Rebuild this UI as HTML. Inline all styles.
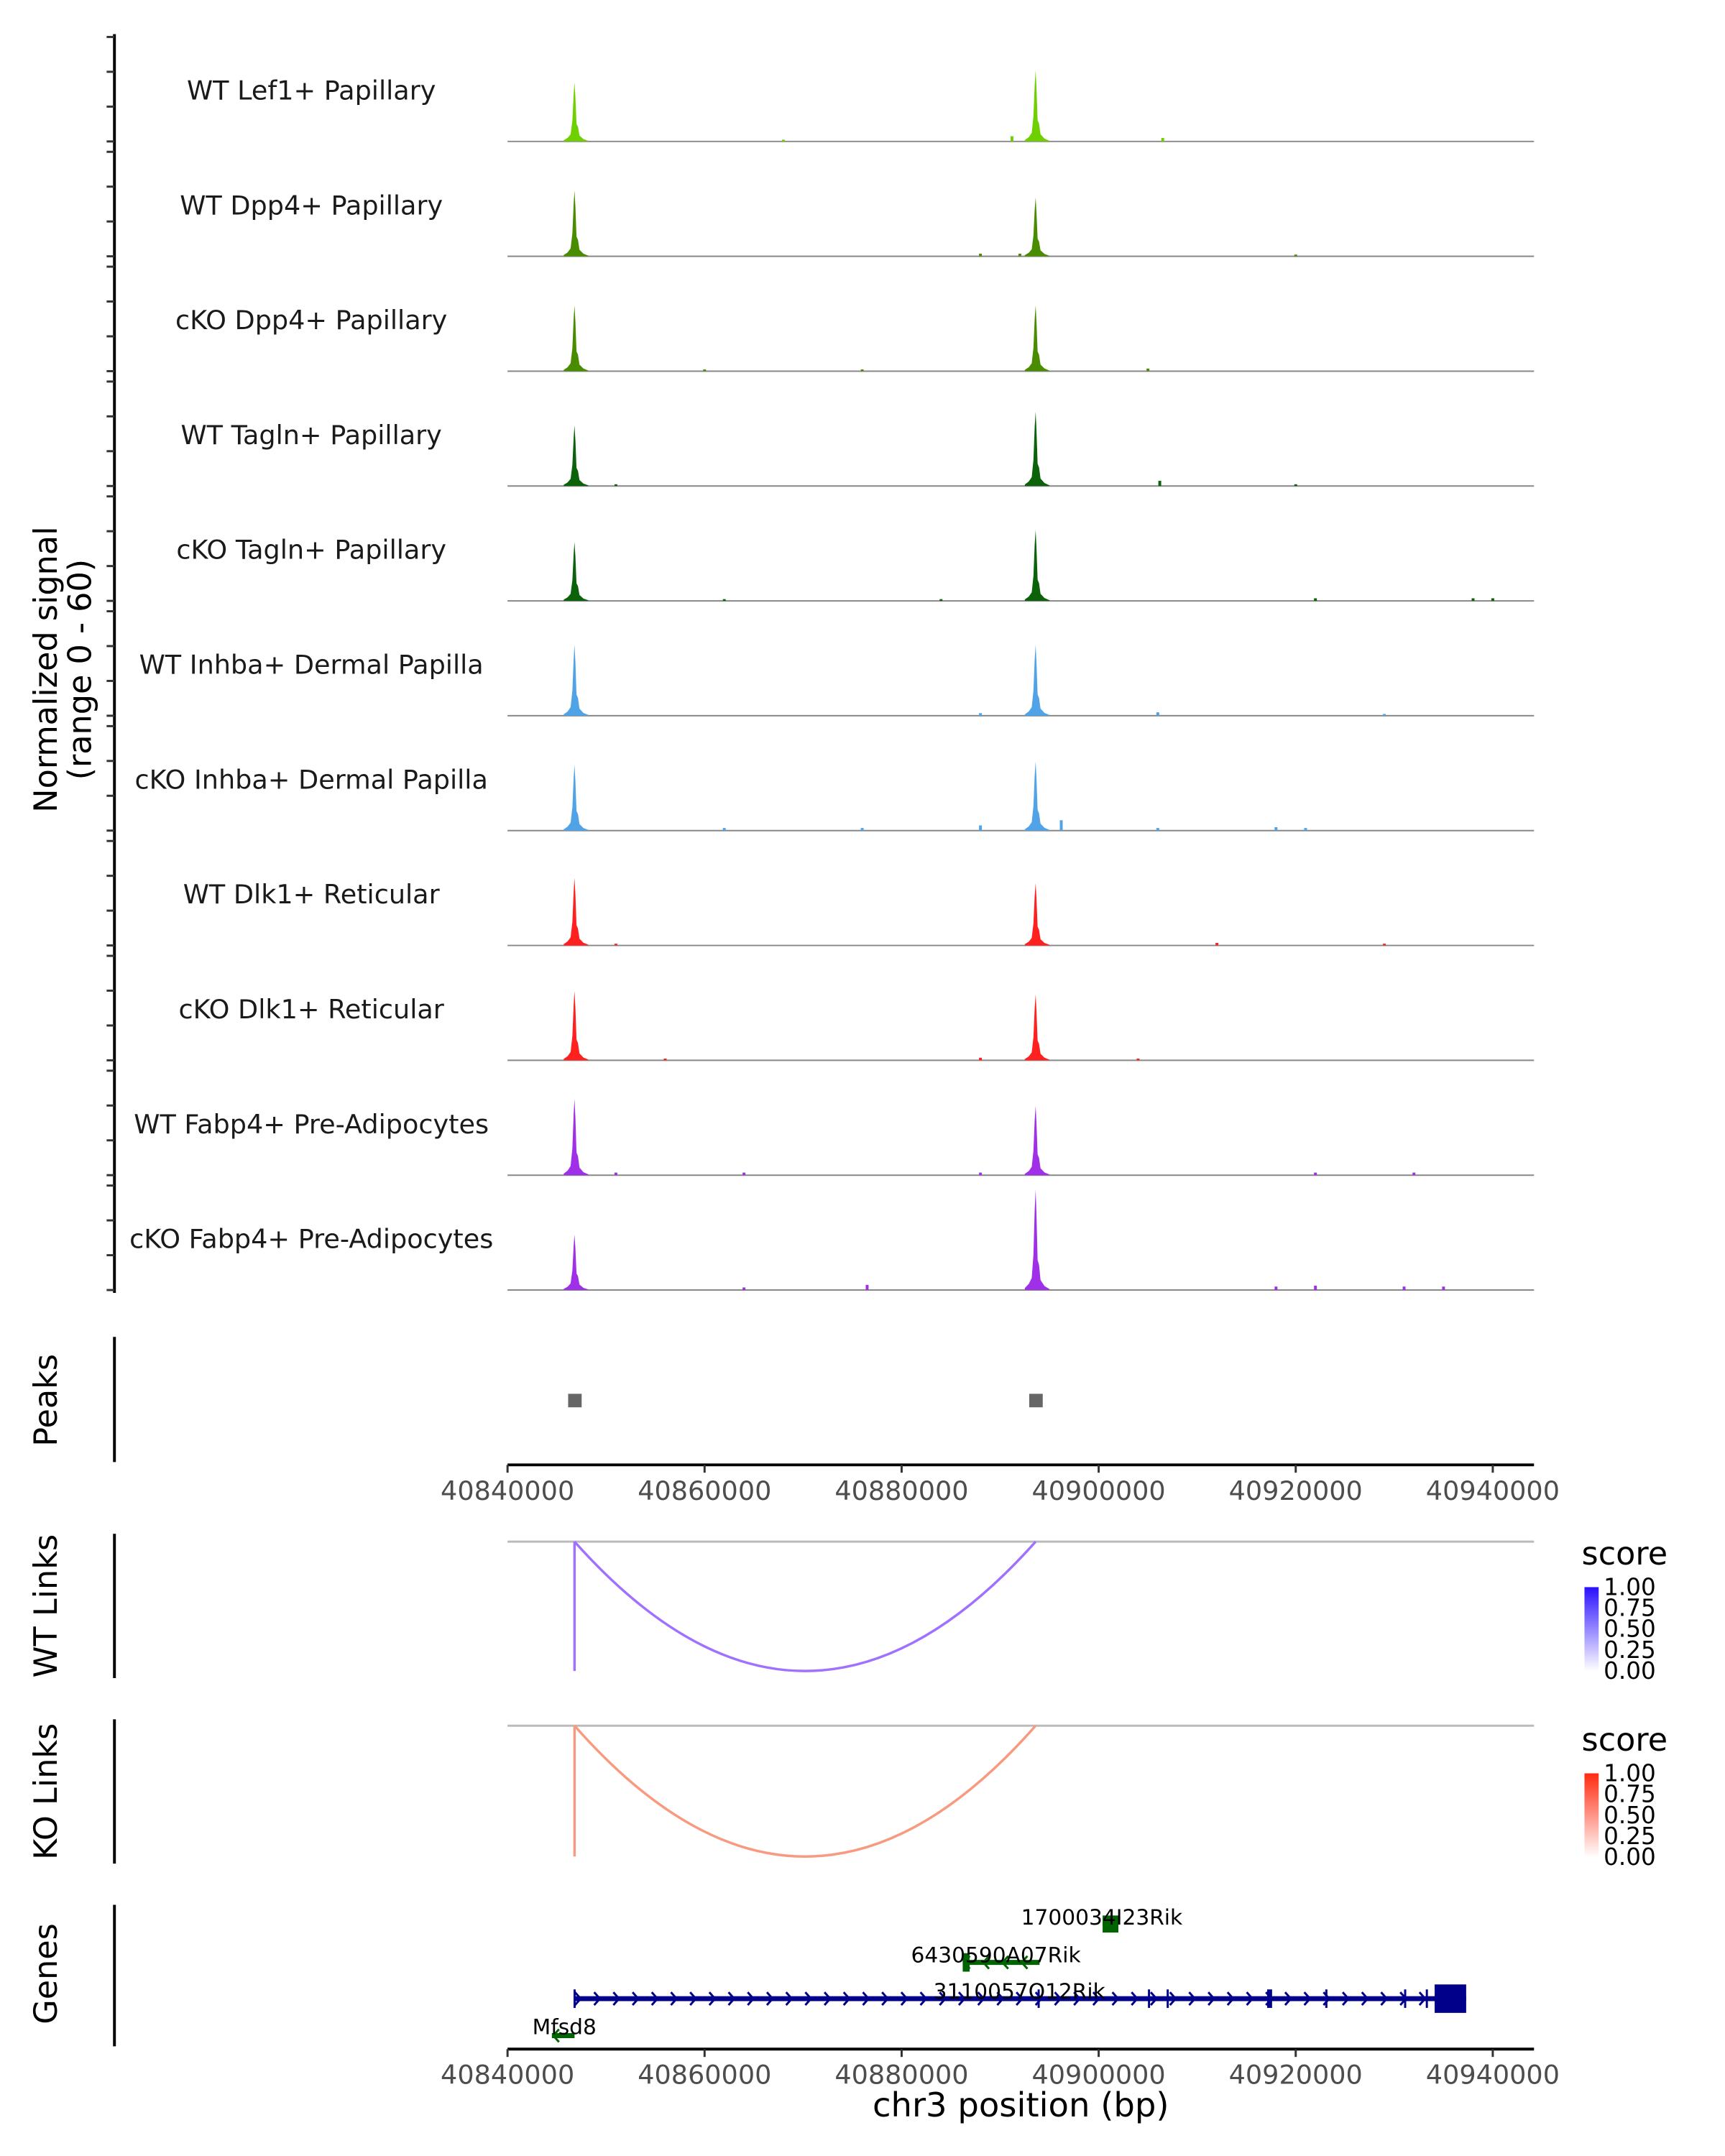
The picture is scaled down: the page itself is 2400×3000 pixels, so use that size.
<!DOCTYPE html>
<html><head><meta charset="utf-8"><style>
html,body{margin:0;padding:0;background:#fff}
svg{display:block;font-family:"DejaVu Sans","Liberation Sans",sans-serif}
</style></head><body>
<svg id="chart" width="2400" height="3000" viewBox="0 0 2400 3000" xmlns="http://www.w3.org/2000/svg">
<g transform="scale(0.989)">
<g id="tracks"></g>
<text transform="translate(80,942) rotate(-90)" font-size="45" text-anchor="middle" fill="#000">Normalized signal</text>
<text transform="translate(128,942) rotate(-90)" font-size="45" text-anchor="middle" fill="#000">(range 0 - 60)</text>
<g id="peaks"></g>
<g id="links"></g>
<g id="genes"></g>
</g>
</svg>
<script>
const trackNames=["WT Lef1+ Papillary","WT Dpp4+ Papillary","cKO Dpp4+ Papillary","WT Tagln+ Papillary","cKO Tagln+ Papillary","WT Inhba+ Dermal Papilla","cKO Inhba+ Dermal Papilla","WT Dlk1+ Reticular","cKO Dlk1+ Reticular","WT Fabp4+ Pre-Adipocytes","cKO Fabp4+ Pre-Adipocytes"];
const trackColors=["#6fd000","#4a8c00","#4a8c00","#0b620b","#0b620b","#4fa3e6","#4fa3e6","#ff2020","#ff2020","#a030e8","#a030e8"];
const peakPositions=[40846800,40893600];
const peak1Values=[34,38,38,35,34,41,38,39,40,44,32];
const peak2Values=[41,34,38,43,41,41,40,36,38,40,58];
const bumpPositions=[[40891200,40906500,40868000],[40888000,40892000,40920000],[40860000,40876000,40905000],[40906200,40851000,40920000],[40862000,40884000,40922000,40938000,40940000],[40906000,40888000,40929000],[40862000,40876000,40888000,40896200,40906000,40918000,40921000],[40912000,40851000,40929000],[40856000,40888000,40904000],[40851000,40864000,40888000,40922000,40932000],[40864000,40876500,40918000,40922000,40931000,40935000]];
const bumpValues=[[3,2,1],[1.5,1.5,1],[1,1,1.5],[3,1,1],[1,1,1.5,1.5,1.5],[2,1.5,1],[1.5,1.5,3,6,1.5,2,1.5],[1.5,1,1],[1,1.5,1],[1.5,1.5,1.5,1.5,1.5],[1.5,3,2,2.5,2,2]];
const xTicks=[40840000,40860000,40880000,40900000,40920000,40940000];
const linkStarts=[40846800,40846800];
const linkEnds=[40893600,40893600];
const linkNames=["WT Links","KO Links"];
const linkColors=["#a070ff","#f89a80"];
const legendTicks=["1.00","0.75","0.50","0.25","0.00"];

const NS="http://www.w3.org/2000/svg";
const X0=714,PX=1386/100000,BP0=40840000;
const xs=bp=>X0+(bp-BP0)*PX;
const YU=146/60;
function el(tag,attrs,parent,text){const e=document.createElementNS(NS,tag);for(const k in attrs)e.setAttribute(k,attrs[k]);if(text!==undefined)e.textContent=text;parent.appendChild(e);return e;}
const T=document.getElementById('tracks');
const shape=[[-1100,0.02],[-700,0.06],[-400,0.12],[-220,0.35],[-90,0.8],[0,1],[90,0.75],[200,0.3],[350,0.25],[500,0.1],[900,0.04],[1400,0.01]];
const yaxis=el('line',{x1:161,y1:48,x2:161,y2:1819,stroke:'#000','stroke-width':4},T);


trackNames.forEach((nm,i)=>{
  const base=199+i*161.6;
  const g=el('g',{},T);
  
  
  for(let k=0;k<4;k++){const tk=el('line',{x1:150,x2:161,y1:base-k*49,y2:base-k*49,stroke:'#333','stroke-width':3},g);}
  const lab=el('text',{x:438,y:base-59,'font-size':37,'text-anchor':'middle',fill:'#1a1a1a'},g,nm);
  
  
  const bl=el('line',{x1:714,x2:2158,y1:base,y2:base,stroke:'#888','stroke-width':2},g);
  
  
  [peak1Values[i],peak2Values[i]].forEach((v,j)=>{
    const c=peakPositions[j];
    let d='M'+xs(c+shape[0][0])+','+base;
    shape.forEach(([o,f])=>{d+=' L'+xs(c+o).toFixed(1)+','+(base-Math.min(v,60)*YU*f).toFixed(1);});
    d+=' L'+xs(c+shape[shape.length-1][0])+','+base+'Z';
    const p=el('path',{d:d,fill:trackColors[i]},g);
    
    
  });
  bumpPositions[i].forEach((bp,j)=>{
    const h=bumpValues[i][j]*YU;
    const r=el('rect',{x:xs(bp)-2,y:base-h,width:4,height:h,fill:trackColors[i]},g);
    
    
  });
});
const P=document.getElementById('peaks');
const pa=el('line',{x1:161,x2:161,y1:1881,y2:2057,stroke:'#000','stroke-width':4},P);

const pt=el('text',{transform:'translate(80,1970) rotate(-90)','font-size':45,'text-anchor':'middle'},P,'Peaks');

peakPositions.forEach(bp=>{const r=el('rect',{x:xs(bp)-9,y:1961,width:19,height:19,fill:'#666'},P);});
function xAxis(y,parent){
  const a=el('line',{x1:714,x2:2158,y1:y,y2:y,stroke:'#000','stroke-width':4},parent);
  
  xTicks.forEach(t=>{
    const tk=el('line',{x1:xs(t),x2:xs(t),y1:y,y2:y+11,stroke:'#333','stroke-width':3},parent);
    
    const tl=el('text',{x:xs(t),y:y+49,'font-size':37,'text-anchor':'middle',fill:'#4d4d4d'},parent,String(t));
    
  });
}
xAxis(2061,P);
const L=document.getElementById('links');
[[2158,2361,2169,2351],[2419,2622,2428,2612]].forEach(([a0,a1,top,bot],i)=>{
  const g=el('g',{},L);
  
  
  const ax=el('line',{x1:161,x2:161,y1:a0,y2:a1,stroke:'#000','stroke-width':4},g);
  
  const t=el('text',{transform:'translate(80,'+((a0+a1)/2)+') rotate(-90)','font-size':45,'text-anchor':'middle'},g,linkNames[i]);
  
  const gl=el('line',{x1:714,x2:2158,y1:top,y2:top,stroke:'#bbb','stroke-width':3},g);
  
  const x1=xs(linkStarts[i]),x2=xs(linkEnds[i]);
  const arc=el('path',{d:`M${x1},${top} Q${(x1+x2)/2},${2*bot-top} ${x2},${top}`,fill:'none',stroke:linkColors[i],'stroke-width':3.5},g);
  
  const vl=el('line',{x1:x1,x2:x1,y1:top,y2:bot,stroke:linkColors[i],'stroke-width':3.5},g);
  
  const lg=el('g',{},g);
  
  const ly=i?2463:2201;
  el('text',{x:2225,y:ly,'font-size':45},lg,'score');
  const gid='grad'+i;
  const defs=el('defs',{},lg);
  const gr=el('linearGradient',{id:gid,x1:0,y1:0,x2:0,y2:1},defs);
  el('stop',{offset:'0','stop-color':i?'#ff2a10':'#2a10ff'},gr);
  el('stop',{offset:'1','stop-color':'#ffffff'},gr);
  const by=ly+32;
  const cb=el('rect',{x:2229,y:by,width:20,height:118,fill:`url(#${gid})`},lg);
  
  legendTicks.forEach((s,k)=>{const tl=el('text',{x:2256,y:by+k*29.5+11,'font-size':33},lg,s);});
});
const G=document.getElementById('genes');
const ga=el('line',{x1:161,x2:161,y1:2680,y2:2879,stroke:'#000','stroke-width':4},G);

const gt=el('text',{transform:'translate(80,2777) rotate(-90)','font-size':45,'text-anchor':'middle'},G,'Genes');

xAxis(2883,G);
const xt=el('text',{x:1436,y:2978,'font-size':47,'text-anchor':'middle'},G,'chr3 position (bp)');

function gene(name,s,e,y,col,dir,lx,ly,exons){
  const g=el('g',{},G);
  
  
  el('line',{x1:xs(s),x2:xs(e),y1:y,y2:y,stroke:col,'stroke-width':7},g);
  for(let x=xs(s)+6;x<xs(e)-4;x+=27){
    const d=dir>0?`M${x-4},${y-9} L${x+4},${y} L${x-4},${y+9}`:`M${x+4},${y-9} L${x-4},${y} L${x+4},${y+9}`;
    el('path',{d:d,fill:'none',stroke:col,'stroke-width':3},g);
  }
  exons.forEach(([a,b,h])=>el('rect',{x:xs(a),y:y-h/2,width:Math.max(3,xs(b)-xs(a)),height:h,fill:col},g));
  el('text',{x:lx,y:ly,'font-size':30,'text-anchor':'middle'},g,name);
}
gene('3110057O12Rik',40846700,40937300,2812,'#00008b',1,1434,2812,[[40846700,40846800,26],[40893800,40893900,26],[40905000,40905100,26],[40906900,40907000,26],[40917100,40917600,26],[40923000,40923200,26],[40931000,40931200,26],[40933200,40933400,26],[40934100,40937300,40]]);
gene('6430590A07Rik',40886200,40894000,2761,'#006400',-1,1401,2761,[[40886200,40886900,26]]);
gene('1700034I23Rik',40900400,40902000,2707,'#006400',1,1550,2708,[[40900400,40902000,24]]);
gene('Mfsd8',40844500,40846800,2864,'#006400',-1,794,2862,[]);
</script>
</body></html>
